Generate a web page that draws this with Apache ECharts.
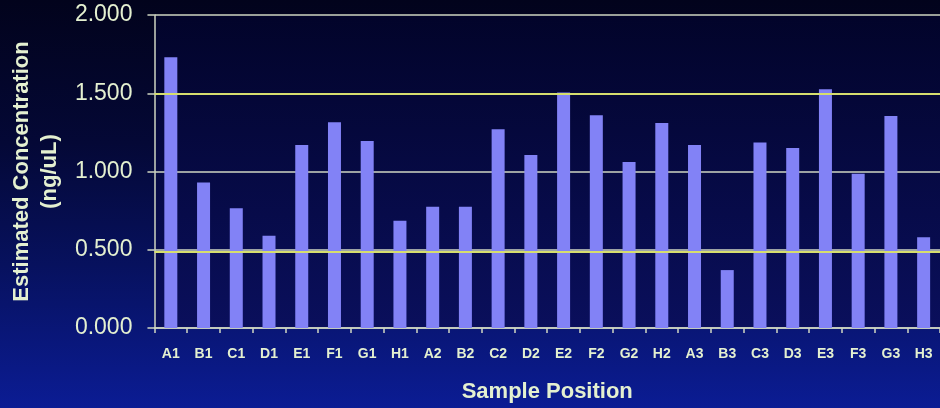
<!DOCTYPE html>
<html>
<head>
<meta charset="utf-8">
<style>
  html, body { margin: 0; padding: 0; }
  body {
    width: 940px; height: 408px; overflow: hidden;
    background: linear-gradient(to bottom, #02031c 0%, #040836 35%, #07115e 65%, #0b1c94 100%);
  }
  #chart { width: 940px; height: 408px; }
</style>
<script src="https://cdn.jsdelivr.net/npm/echarts@6/dist/echarts.min.js"></script>
</head>
<body>
<div id="chart"></div>
<script>
// Sample wells, in plate order
const positions = ['A1','B1','C1','D1','E1','F1','G1','H1',
                   'A2','B2','C2','D2','E2','F2','G2','H2',
                   'A3','B3','C3','D3','E3','F3','G3','H3'];
// Estimated DNA concentration per well (ng/uL)
const concentration = [1.73, 0.93, 0.765, 0.59, 1.17, 1.315, 1.195, 0.685,
                       0.775, 0.775, 1.27, 1.105, 1.505, 1.36, 1.06, 1.31,
                       1.17, 0.37, 1.185, 1.15, 1.525, 0.985, 1.355, 0.58];
// Reference levels marked across the plot
const referenceLevels = [1.5, 0.49];
// Value axis ticks
const yTicks = [0, 0.5, 1.0, 1.5, 2.0];

const textColor = '#e4f0d0';
const lineColor = '#cfd6c2';
const fontFamily = 'Liberation Sans, Arial, sans-serif';

const chart = echarts.init(document.getElementById('chart'), null, { renderer: 'canvas' });

chart.setOption({
  backgroundColor: 'transparent',
  animation: false,
  grid: {
    left: 153, top: 15, bottom: 80, right: -5,
    show: true, borderWidth: 0,
    backgroundColor: new echarts.graphic.LinearGradient(0, 0, 0, 1, [
      { offset: 0, color: '#02042a' },
      { offset: 1, color: '#0a0f5c' }
    ])
  },
  xAxis: {
    type: 'category',
    data: positions,
    name: 'Sample Position',
    nameLocation: 'middle',
    nameGap: 53,
    nameTextStyle: { color: textColor, fontSize: 22, fontWeight: 'bold', fontFamily },
    axisLine: { lineStyle: { color: lineColor, width: 1.5 } },
    axisTick: { show: true, length: 5, alignWithLabel: false, lineStyle: { color: lineColor, width: 1.5 } },
    axisLabel: { color: textColor, fontSize: 14, fontWeight: 'bold', margin: 19, interval: 0, fontFamily }
  },
  yAxis: {
    type: 'value',
    min: yTicks[0], max: yTicks[yTicks.length - 1], interval: 0.5,
    name: 'Estimated Concentration\n(ng/uL)',
    nameLocation: 'middle',
    nameGap: 90,
    nameTextStyle: { color: textColor, fontSize: 22, fontWeight: 'bold', lineHeight: 28, align: 'center', fontFamily },
    axisLine: { show: true, lineStyle: { color: lineColor, width: 1.5 } },
    axisTick: { show: true, inside: false, length: 7, lineStyle: { color: lineColor, width: 1.5 } },
    axisLabel: { color: textColor, fontSize: 23, margin: 22, fontFamily,
                 formatter: v => v.toFixed(3) },
    splitLine: { show: true, lineStyle: { color: lineColor, width: 1.5 } }
  },
  series: [{
    type: 'bar',
    data: concentration,
    barWidth: 13,
    itemStyle: { color: '#8282f6' },
    markLine: {
      silent: true,
      symbol: 'none',
      label: { show: false },
      lineStyle: { color: '#d6de6e', width: 1.8, type: 'solid' },
      data: referenceLevels.map(v => ({ yAxis: v }))
    }
  }]
});
</script>
</body>
</html>
